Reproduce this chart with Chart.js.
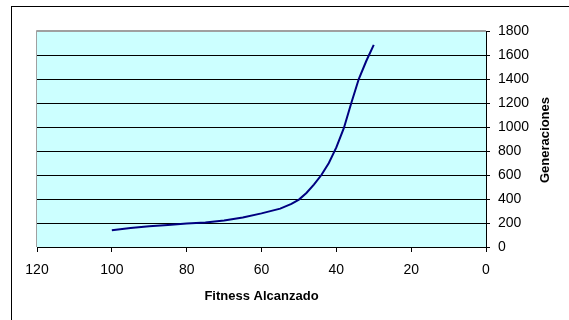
<!DOCTYPE html>
<html>
<head>
<meta charset="utf-8">
<script src="https://cdn.jsdelivr.net/npm/chart.js@4/dist/chart.umd.min.js"></script>
<style>
  html, body { margin: 0; padding: 0; background: #ffffff; }
  #wrap { width: 569px; height: 320px; position: relative; }
</style>
</head>
<body>
<div id="wrap"><canvas id="c" width="569" height="320"></canvas></div>
<script>
// Fitness reached vs. generations needed
const fitness = [100, 95, 90, 85, 80, 75, 70, 65, 60, 55, 52, 50, 48, 46, 44, 42, 40, 38, 36, 34, 32, 30];
const generaciones = [140, 158, 172, 183, 195, 205, 220, 245, 280, 320, 360, 395, 450, 520, 600, 700, 830, 990, 1200, 1400, 1550, 1685];
const xTicks = [0, 20, 40, 60, 80, 100, 120];
const yTicks = [0, 200, 400, 600, 800, 1000, 1200, 1400, 1600, 1800];
const xTitle = 'Fitness Alcanzado';
const yTitle = 'Generaciones';

const FONT = '"Liberation Sans", Arial, sans-serif';

const points = fitness.map((f, i) => ({ x: f, y: generaciones[i] }));

// Frame, plot background and the rotated right-hand title
const decor = {
  id: 'decor',
  beforeDraw(chart) {
    const { ctx, chartArea: a } = chart;
    ctx.save();
    ctx.fillStyle = '#ffffff';
    ctx.fillRect(0, 0, chart.width, chart.height);
    ctx.strokeStyle = '#000000';
    ctx.lineWidth = 1;
    ctx.strokeRect(11.5, 6.5, 700, 400);
    ctx.fillStyle = '#ccffff';
    ctx.fillRect(a.left, a.top, a.right - a.left, a.bottom - a.top);
    ctx.restore();
  },
  beforeDatasetsDraw(chart) {
    const { ctx, chartArea: a } = chart;
    ctx.save();
    ctx.strokeStyle = '#a0a0a0';
    ctx.lineWidth = 1;
    ctx.beginPath();
    ctx.moveTo(a.left - 0.5, a.bottom);
    ctx.lineTo(a.left - 0.5, a.top - 0.5);
    ctx.lineTo(a.right, a.top - 0.5);
    ctx.stroke();
    ctx.restore();
  },
  afterDraw(chart) {
    const { ctx, chartArea: a } = chart;
    ctx.save();
    ctx.fillStyle = '#000000';
    ctx.font = 'bold 13px ' + FONT;
    ctx.textAlign = 'center';
    ctx.textBaseline = 'middle';
    ctx.translate(545, (a.top + a.bottom) / 2 + 1);
    ctx.rotate(-Math.PI / 2);
    ctx.fillText(yTitle, 0, 0);
    ctx.restore();
  }
};

new Chart(document.getElementById('c'), {
  type: 'scatter',
  data: {
    datasets: [{
      data: points,
      showLine: true,
      borderColor: '#000080',
      borderWidth: 2,
      pointRadius: 0,
      tension: 0,
      fill: false
    }]
  },
  options: {
    responsive: false,
    animation: false,
    events: [],
    layout: { autoPadding: false, padding: { left: 37, top: 31, right: 0, bottom: 16 } },
    plugins: { legend: { display: false }, tooltip: { enabled: false } },
    scales: {
      x: {
        type: 'linear',
        reverse: true,
        min: 0,
        max: 120,
        afterFit(s) { s.height = 57; },
        afterBuildTicks(s) { s.ticks = xTicks.map(v => ({ value: v })); },
        grid: { drawOnChartArea: false, drawTicks: true, tickLength: 5, color: '#000000', lineWidth: 1 },
        border: { display: true, color: '#000000', width: 1 },
        ticks: { color: '#000000', font: { family: FONT, size: 14 }, padding: 10, maxRotation: 0, callback: v => String(v) },
        title: {
          display: true,
          text: xTitle,
          color: '#000000',
          font: { family: FONT, size: 13, weight: 'bold' },
          padding: { top: 4, bottom: 0 }
        }
      },
      y: {
        type: 'linear',
        position: 'right',
        min: 0,
        max: 1800,
        afterFit(s) { s.width = 83; },
        afterBuildTicks(s) { s.ticks = yTicks.map(v => ({ value: v })); },
        grid: {
          drawOnChartArea: true,
          drawTicks: true,
          tickLength: 4,
          lineWidth: 1,
          color: (c) => (c.tick && c.tick.value === 1800 ? '#a0a0a0' : '#000000'),
          tickColor: '#000000'
        },
        border: { display: true, color: '#000000', width: 1 },
        ticks: { color: '#000000', font: { family: FONT, size: 14 }, padding: 8, align: 'near', callback: v => String(v) }
      }
    }
  },
  plugins: [decor]
});
</script>
</body>
</html>
